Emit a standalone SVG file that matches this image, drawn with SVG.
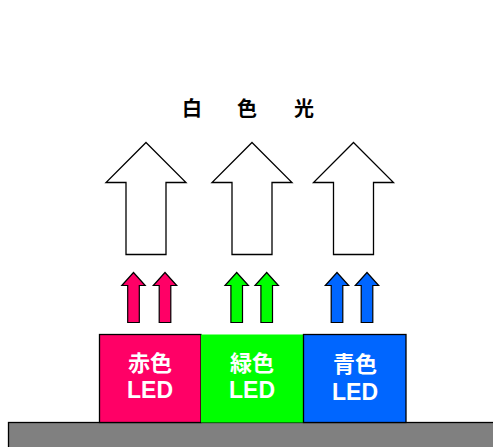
<svg xmlns="http://www.w3.org/2000/svg" width="493" height="447" viewBox="0 0 493 447">
<style>
.big{fill:#fff;stroke:#000;stroke-width:1.3;stroke-linejoin:miter}
.sm{stroke:#000;stroke-width:1.2}
.t{font-family:"Liberation Sans","Noto Sans CJK JP",sans-serif;font-weight:bold;text-anchor:middle}
.w{fill:#fff;font-size:22px}
.l{fill:#fff;font-size:23px}
</style>
<defs>
<path id="bigA" d="M0,0 L40,40 L20,40 L20,112 L-20,112 L-20,40 L-40,40 Z"/>
<path id="smA" d="M0,0 L11.7,13 L5.8,13 L5.8,50 L-5.8,50 L-5.8,13 L-11.7,13 Z"/>
</defs>
<rect width="493" height="447" fill="#fff"/>
<g id="title"><text class="t" x="192" y="116" font-size="20">白</text><text class="t" x="247" y="116" font-size="20">色</text><text class="t" x="304" y="116" font-size="20">光</text></g>
<g id="connectors">
<use href="#bigA" class="big" x="146" y="142.5"/>
<use href="#bigA" class="big" x="252" y="142.5"/>
<use href="#bigA" class="big" x="353.5" y="142.5"/>
<use href="#smA" class="sm" fill="#FF0066" x="133.5" y="272.5"/>
<use href="#smA" class="sm" fill="#FF0066" x="165" y="272.5"/>
<use href="#smA" class="sm" fill="#00FF00" x="236.7" y="272.5"/>
<use href="#smA" class="sm" fill="#00FF00" x="266.7" y="272.5"/>
<use href="#smA" class="sm" fill="#0066FF" x="337" y="272.5"/>
<use href="#smA" class="sm" fill="#0066FF" x="367" y="272.5"/>
</g>
<g id="ground"><rect x="8.5" y="422.5" width="490" height="30" fill="#808080" stroke="#000" stroke-width="1.3"/></g>
<g id="red"><rect x="99.5" y="334.5" width="101.5" height="88" fill="#FF0066" stroke="#000" stroke-width="1.3"/><text class="t w" x="150" y="371">赤色</text><text class="t l" x="150" y="397.5">LED</text></g>
<g id="green"><rect x="201" y="334.5" width="102.5" height="88" fill="#00FF00"/><text class="t w" x="252" y="371">緑色</text><text class="t l" x="252" y="397.5">LED</text></g>
<g id="blue"><rect x="303.5" y="334.5" width="102.5" height="88" fill="#0066FF" stroke="#000" stroke-width="1.3"/><text class="t w" x="355" y="372">青色</text><text class="t l" x="355" y="399.5">LED</text></g>
</svg>
